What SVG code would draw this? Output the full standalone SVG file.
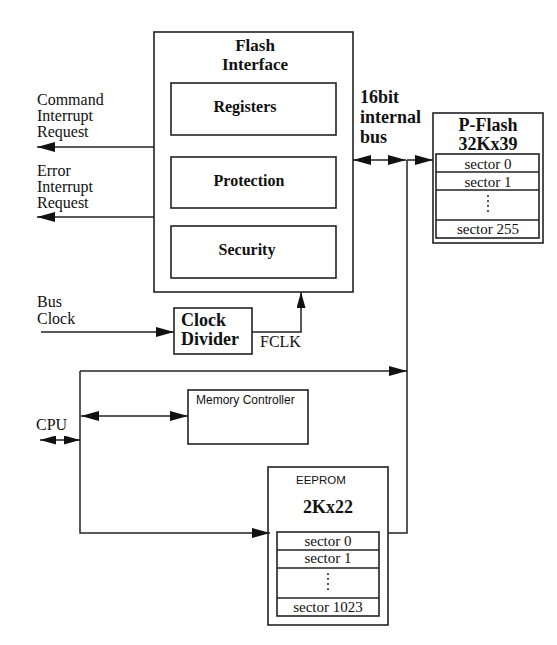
<svg xmlns="http://www.w3.org/2000/svg" width="557" height="645" viewBox="0 0 557 645">
<style>
.box{fill:none;stroke:#222;stroke-width:1.6}
.ln{fill:none;stroke:#222;stroke-width:1.5}
.t{font-family:"Liberation Serif",serif;font-size:16px;fill:#111}
.b{font-family:"Liberation Serif",serif;font-weight:bold;fill:#111}
.s{font-family:"Liberation Sans",sans-serif;fill:#111}
.sec{font-family:"Liberation Serif",serif;font-size:15px;fill:#111;text-anchor:middle}
.dot{stroke:#222;stroke-width:1.5;stroke-dasharray:2,3}
</style>
<defs>
<marker id="ah" markerUnits="userSpaceOnUse" markerWidth="18" markerHeight="10" refX="18" refY="5" orient="auto-start-reverse">
<path d="M0,0 L18,5 L0,10 z" fill="#111"/>
</marker>
<marker id="ahs" markerUnits="userSpaceOnUse" markerWidth="16" markerHeight="9" refX="16" refY="4.5" orient="auto-start-reverse">
<path d="M0,0 L16,4.5 L0,9 z" fill="#111"/>
</marker>
</defs>
<rect width="557" height="645" fill="#fff"/>

<g id="connectors">
<line class="ln" x1="154" y1="147" x2="37" y2="147" marker-end="url(#ah)"/>
<line class="ln" x1="154" y1="217" x2="37" y2="217" marker-end="url(#ah)"/>
<line class="ln" x1="41" y1="332" x2="174" y2="332" marker-end="url(#ah)"/>
<polyline class="ln" points="252,332 301,332 301,292" marker-end="url(#ahs)"/>
<line class="ln" x1="353" y1="160" x2="406" y2="160" marker-start="url(#ah)" marker-end="url(#ah)"/>
<line class="ln" x1="407" y1="160" x2="433" y2="160" marker-end="url(#ah)"/>
<polyline class="ln" points="407,160 407,533 388,533"/>
<polyline class="ln" points="80,371 407,371" marker-end="url(#ah)"/>
<polyline class="ln" points="80,371 80,533 270,533" marker-end="url(#ah)"/>
<line class="ln" x1="81" y1="416" x2="188" y2="416" marker-start="url(#ah)" marker-end="url(#ah)"/>
<line class="ln" x1="40" y1="440" x2="80" y2="440" marker-start="url(#ahs)" marker-end="url(#ahs)"/>
</g>

<g id="labels">
<text class="t" x="37" y="105">Command</text>
<text class="t" x="37" y="121">Interrupt</text>
<text class="t" x="37" y="137">Request</text>
<text class="t" x="37" y="176">Error</text>
<text class="t" x="37" y="192">Interrupt</text>
<text class="t" x="37" y="208">Request</text>
<text class="t" font-size="15" x="37" y="307">Bus</text>
<text class="t" font-size="15" x="37" y="324">Clock</text>
<text class="t" x="260" y="347">FCLK</text>
<text class="t" x="36" y="430">CPU</text>
<text class="b" font-size="18" x="360" y="103">16bit</text>
<text class="b" font-size="18" x="360" y="123">internal</text>
<text class="b" font-size="18" x="360" y="143">bus</text>
</g>

<g id="flash-interface">
<rect class="box" x="154" y="32" width="199" height="260"/>
<text class="b" font-size="17" x="255" y="51" text-anchor="middle">Flash</text>
<text class="b" font-size="17" x="255" y="70" text-anchor="middle">Interface</text>
</g>
<g id="registers">
<rect class="box" x="171" y="83" width="165" height="52"/>
<text class="b" font-size="16" x="245" y="112" text-anchor="middle">Registers</text>
</g>
<g id="protection">
<rect class="box" x="171" y="157" width="165" height="51"/>
<text class="b" font-size="16" x="249" y="186" text-anchor="middle">Protection</text>
</g>
<g id="security">
<rect class="box" x="171" y="226" width="165" height="52"/>
<text class="b" font-size="16" x="247" y="255" text-anchor="middle">Security</text>
</g>

<g id="clock-divider">
<rect class="box" x="174" y="308" width="78" height="46"/>
<text class="b" font-size="18" x="181" y="326">Clock</text>
<text class="b" font-size="18" x="181" y="345">Divider</text>
</g>

<g id="p-flash">
<rect class="box" x="433" y="113" width="110" height="130"/>
<text class="b" font-size="18" x="488" y="131" text-anchor="middle">P-Flash</text>
<text class="b" font-size="18" x="488" y="150" text-anchor="middle">32Kx39</text>
<rect class="box" x="436" y="154" width="103" height="84"/>
<line class="ln" x1="436" y1="172" x2="539" y2="172"/>
<line class="ln" x1="436" y1="190" x2="539" y2="190"/>
<line class="ln" x1="436" y1="220" x2="539" y2="220"/>
<text class="sec" x="488" y="169">sector 0</text>
<text class="sec" x="488" y="187">sector 1</text>
<line class="dot" x1="488" y1="195" x2="488" y2="215"/>
<text class="sec" x="488" y="234">sector 255</text>
</g>

<g id="memory-controller">
<rect class="box" x="188" y="390" width="120" height="54"/>
<text class="s" font-size="12" x="196" y="404">Memory Controller</text>
</g>

<g id="eeprom">
<rect class="box" x="268" y="467" width="120" height="158"/>
<text class="s" font-size="11.5" x="296" y="484">EEPROM</text>
<text class="b" font-size="18" x="328" y="513" text-anchor="middle">2Kx22</text>
<rect class="box" x="277" y="532" width="102" height="84"/>
<line class="ln" x1="277" y1="550" x2="379" y2="550"/>
<line class="ln" x1="277" y1="568" x2="379" y2="568"/>
<line class="ln" x1="277" y1="598" x2="379" y2="598"/>
<text class="sec" x="328" y="546">sector 0</text>
<text class="sec" x="328" y="563">sector 1</text>
<line class="dot" x1="328" y1="573" x2="328" y2="593"/>
<text class="sec" x="328" y="612">sector 1023</text>
</g>
</svg>
